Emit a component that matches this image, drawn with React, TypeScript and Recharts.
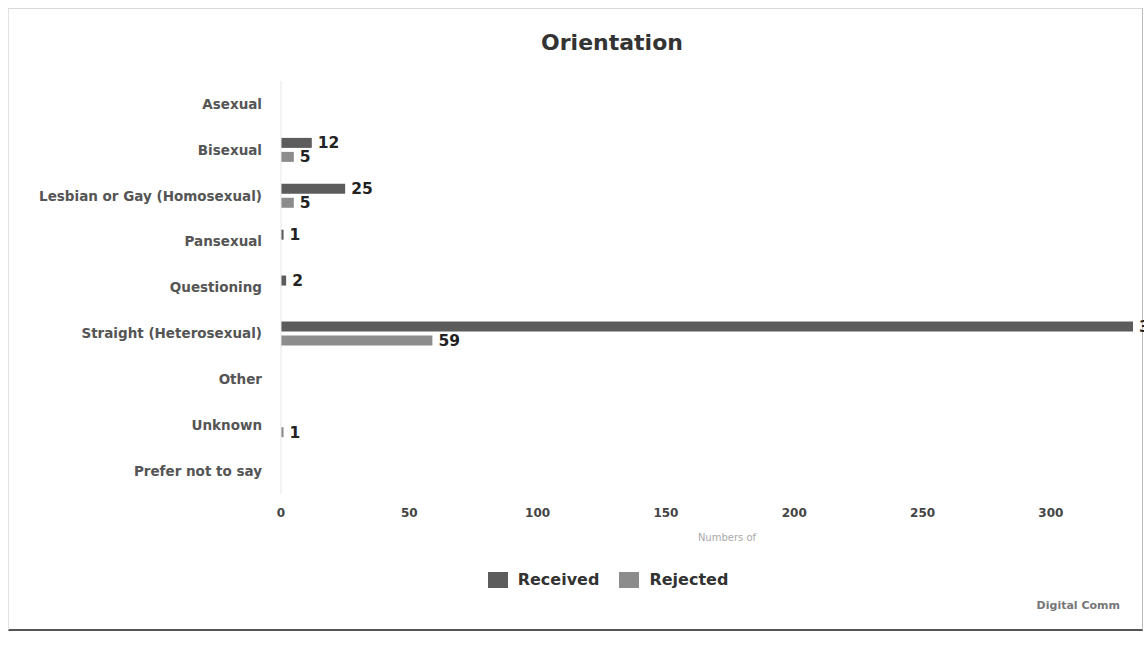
import { BarChart, Bar, XAxis, YAxis, LabelList } from 'recharts';

const categories = [
  'Asexual',
  'Bisexual',
  'Lesbian or Gay (Homosexual)',
  'Pansexual',
  'Questioning',
  'Straight (Heterosexual)',
  'Other',
  'Unknown',
  'Prefer not to say',
];
const received = [0, 12, 25, 1, 2, 332, 0, 0, 0];
const rejected = [0, 5, 5, 0, 0, 59, 0, 1, 0];
const xTicks = [0, 50, 100, 150, 200, 250, 300];

const data = categories.map((name, i) => ({ name, received: received[i], rejected: rejected[i] }));

const FONT = '"DejaVu Sans", Verdana, sans-serif';
const RECEIVED = '#5c5c5c';
const REJECTED = '#8c8c8c';

// zero counts get no label
const hideZero = (v: any) => (v ? v : '');

const labelStyle = { fontFamily: FONT, fontSize: 15.5, fontWeight: 700, fill: '#222' };

const LegendBox = () => (
  <div style={{ position: 'absolute', top: 570, left: 0, width: 1216, display: 'flex', justifyContent: 'center', gap: 20, fontFamily: FONT, fontWeight: 700, fontSize: 16, color: '#333' }}>
    {[
      ['Received', RECEIVED],
      ['Rejected', REJECTED],
    ].map(([label, color]) => (
      <div key={label} style={{ display: 'flex', alignItems: 'center', gap: 10 }}>
        <span style={{ width: 20, height: 16, background: color, display: 'inline-block' }} />
        <span>{label}</span>
      </div>
    ))}
  </div>
);

const App = () => {
  return (
    <div style={{ position: 'absolute', left: 0, top: 0, width: 1144, height: 655, overflow: 'hidden', background: '#fff' }}>
      <div style={{ position: 'absolute', left: 8, top: 8, width: 1133, height: 620, borderTop: '1px solid #d8d8d8', borderLeft: '1px solid #e2e2e2', borderRight: '1px solid #bdbdbd', borderBottom: '2px solid #555' }} />
      <div style={{ position: 'absolute', left: 0, top: 30, width: 1224, textAlign: 'center', fontFamily: FONT, fontWeight: 700, fontSize: 22, color: '#333' }}>
        Orientation
      </div>
      <BarChart
        width={1144}
        height={655}
        data={data}
        layout="vertical"
        margin={{ top: 81, right: 11, bottom: 131, left: 0 }}
        barSize={10}
        barGap={4}
        style={{ position: 'absolute', left: 0, top: 0 }}
      >
        <XAxis
          type="number"
          domain={[0, 332]}
          ticks={xTicks}
          allowDataOverflow
          axisLine={false}
          tickLine={false}
          tickSize={0}
          tickMargin={14}
          tick={{ fontFamily: FONT, fontSize: 12, fontWeight: 700, fill: '#444' }}
          label={{ value: 'Numbers of', position: 'bottom', offset: 10, dx: 20, style: { fontFamily: FONT, fontSize: 10, fill: '#aaa' } }}
        />
        <YAxis
          type="category"
          dataKey="name"
          width={281}
          axisLine={{ stroke: '#e6e6e6' }}
          tickLine={false}
          tickSize={0}
          tickMargin={19}
          tick={{ fontFamily: FONT, fontSize: 13.5, fontWeight: 700, fill: '#555' }}
        />
        <Bar dataKey="received" name="Received" fill={RECEIVED} isAnimationActive={false}>
          <LabelList dataKey="received" position="right" offset={6} formatter={hideZero} style={labelStyle} />
        </Bar>
        <Bar dataKey="rejected" name="Rejected" fill={REJECTED} isAnimationActive={false}>
          <LabelList dataKey="rejected" position="right" offset={6} formatter={hideZero} style={labelStyle} />
        </Bar>
      </BarChart>
      <LegendBox />
      <div style={{ position: 'absolute', right: 24, top: 599, fontFamily: FONT, fontWeight: 700, fontSize: 11, color: '#777' }}>
        Digital Comm
      </div>
    </div>
  );
};

export default App;
